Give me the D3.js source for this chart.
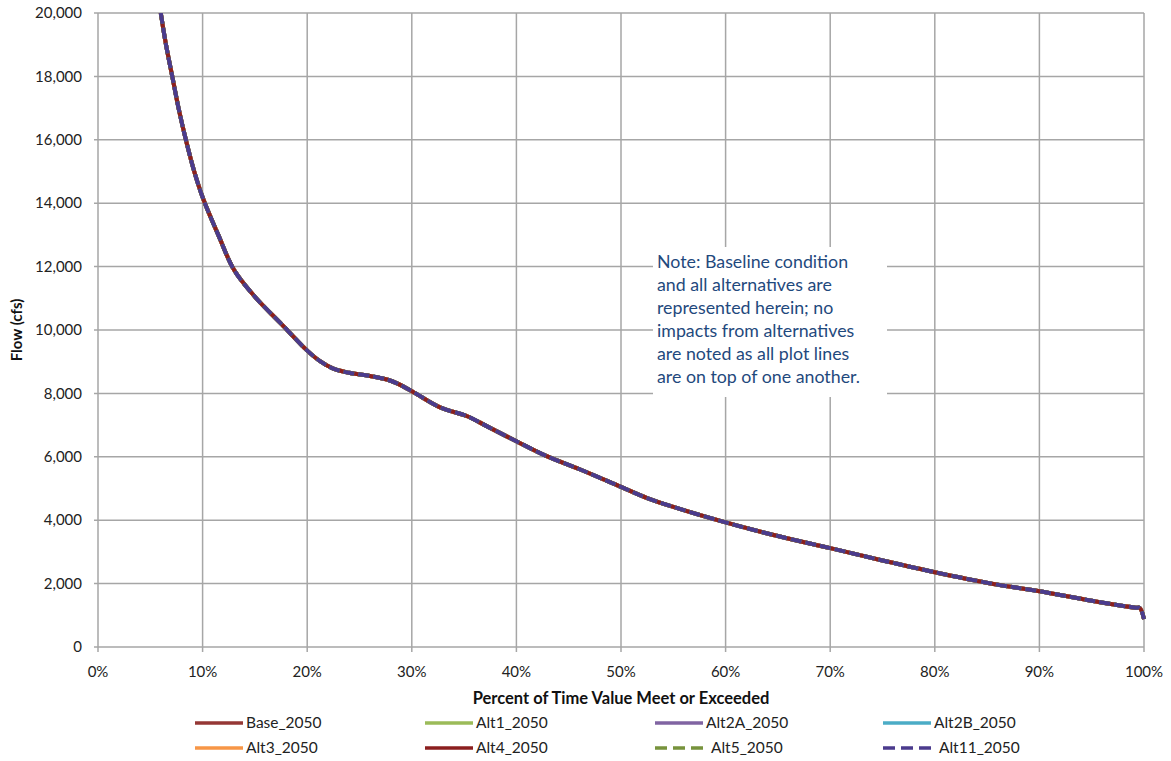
<!DOCTYPE html>
<html><head><meta charset="utf-8">
<script src="https://cdn.jsdelivr.net/npm/d3@7"></script>
<style>body{margin:0;background:#fff;} svg{display:block;font-family:Lato,"Open Sans",sans-serif;}</style>
</head><body>
<svg id="chart" width="1171" height="761"></svg>
<script>
// Exceedance percent (x) and flow (y)
const percentExceeded = [6.0,6.5,7.1,7.7,8.4,9.2,10.1,11.5,13.0,15.0,17.5,20.0,21.3,22.5,24.0,26.0,27.7,28.7,30.2,32.7,35.3,37.2,40.0,42.9,46.1,50.0,52.5,55.0,60.0,65.0,70.0,75.0,80.0,85.6,90.0,95.0,99.2,99.6,100];
const flowCfs = [20000,19000,18000,17000,16000,15000,14100,13000,11900,11050,10200,9350,9000,8780,8650,8550,8430,8300,8030,7560,7280,6960,6490,6020,5600,5050,4700,4420,3930,3500,3120,2730,2360,1990,1760,1460,1240,1230,880];
const seriesNames = ["Base_2050","Alt1_2050","Alt2A_2050","Alt2B_2050","Alt3_2050","Alt4_2050","Alt5_2050","Alt11_2050"];
const seriesColors = ["#953735","#9BBB59","#8064A2","#4BACC6","#F79646","#8B1E1E","#77933C","#4B3B8D"];
const seriesDashed = [false,false,false,false,false,false,true,true];
const xTicks = [0,10,20,30,40,50,60,70,80,90,100];
const yTicks = [0,2000,4000,6000,8000,10000,12000,14000,16000,18000,20000];
const noteLines = ["Note: Baseline condition","and all alternatives are","represented herein; no","impacts from alternatives","are noted as all plot lines","are on top of one another."];

const svg = d3.select("#chart");
const L = 98, R = 1144, T = 13, B = 647;
const x = d3.scaleLinear().domain([0,100]).range([L,R]);
const y = d3.scaleLinear().domain([0,20000]).range([B,T]);
const grid = "#a6a6a6";

// gridlines
svg.append("g").selectAll("line").data(yTicks).join("line")
  .attr("x1",L-4).attr("x2",R).attr("y1",d=>y(d)).attr("y2",d=>y(d))
  .attr("stroke",grid).attr("stroke-width",1.5);
svg.append("g").selectAll("line").data(xTicks).join("line")
  .attr("x1",d=>x(d)).attr("x2",d=>x(d)).attr("y1",T).attr("y2",B+5)
  .attr("stroke",grid).attr("stroke-width",1.5);

// axis labels
const fmt = d3.format(",");
svg.append("g").selectAll("text").data(yTicks).join("text")
  .attr("x",82).attr("y",d=>y(d)).attr("dy","0.35em").attr("text-anchor","end")
  .attr("font-size",15).attr("fill","#222").text(d=>fmt(d));
svg.append("g").selectAll("text").data(xTicks).join("text")
  .attr("x",d=>x(d)).attr("y",672).attr("dy","0.35em").attr("text-anchor","middle")
  .attr("font-size",15).attr("fill","#222").text(d=>d+"%");
svg.append("text").attr("x",(L+R)/2).attr("y",698).attr("dy","0.35em").attr("text-anchor","middle")
  .attr("font-size",16.5).attr("font-weight","bold").attr("fill","#111").text("Percent of Time Value Meet or Exceeded");
svg.append("text").attr("transform",`translate(17,${(T+B)/2}) rotate(-90)`).attr("dy","0.35em").attr("text-anchor","middle")
  .attr("font-size",15).attr("font-weight","bold").attr("fill","#111").text("Flow (cfs)");

// note box (white background hides gridlines)
svg.append("rect").attr("x",653).attr("y",247).attr("width",234).attr("height",150).attr("fill","#fff");
svg.append("g").selectAll("text").data(noteLines).join("text")
  .attr("x",657).attr("y",(d,i)=>262+i*23).attr("dy","0.35em")
  .attr("font-size",17.8).attr("fill","#1F497D").text(d=>d);

// series
const pts = percentExceeded.map((p,i)=>[p,flowCfs[i]]);
const line = d3.line().x(d=>x(d[0])).y(d=>y(d[1])).curve(d3.curveCatmullRom.alpha(0.5));
svg.append("clipPath").attr("id","clip").append("rect").attr("x",L-5).attr("y",T).attr("width",R-L+10).attr("height",B-T+5);
const lg = svg.append("g").attr("clip-path","url(#clip)");
seriesNames.forEach((n,i)=>{
  lg.append("path").attr("d",line(pts)).attr("fill","none")
    .attr("stroke",seriesColors[i]).attr("stroke-width",4)
    .attr("stroke-dasharray",seriesDashed[i]?"11,4":null)
    .attr("stroke-linejoin","round");
});

// legend
const colX = [195,425,655,883];
const rowY = [723,748];
seriesNames.forEach((n,i)=>{
  const c = i%4, r = Math.floor(i/4);
  const g = svg.append("g").attr("transform",`translate(${colX[c]},${rowY[r]})`);
  g.append("line").attr("x1",0).attr("x2",48).attr("y1",0).attr("y2",0)
    .attr("stroke",seriesColors[i]).attr("stroke-width",3.5)
    .attr("stroke-dasharray",seriesDashed[i]?"12,6":null);
  g.append("text").attr("x",seriesDashed[i]?56:51).attr("y",0).attr("dy","0.35em")
    .attr("font-size",15.5).attr("fill","#222").text(n);
});
</script>
</body></html>
